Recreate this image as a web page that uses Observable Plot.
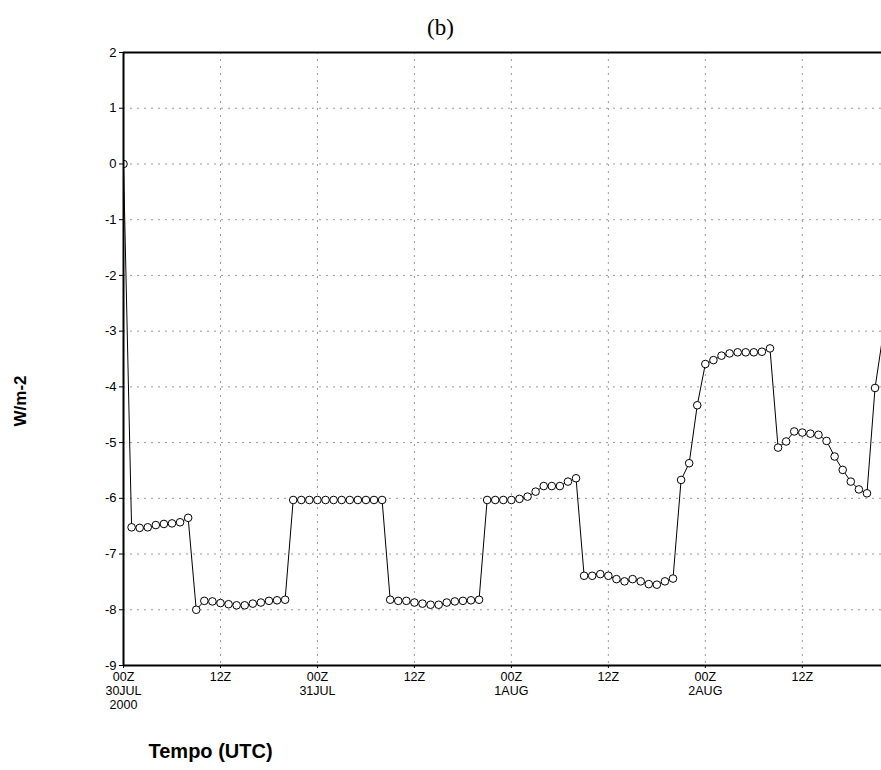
<!DOCTYPE html>
<html>
<head>
<meta charset="utf-8">
<script src="https://cdn.jsdelivr.net/npm/d3@7"></script>
<script src="https://cdn.jsdelivr.net/npm/@observablehq/plot@0.6"></script>
<style>
  html, body { margin: 0; padding: 0; background: #fff; }
  #chart { width: 881px; height: 770px; }
</style>
</head>
<body>
<div id="chart"></div>
<script>
// Hourly values (W/m-2) starting 00Z 30JUL2000
const values = [
  0,
  -6.52, -6.53, -6.52, -6.48, -6.46, -6.45, -6.43, -6.35,
  -8.00, -7.84, -7.85, -7.88, -7.90, -7.92, -7.92, -7.89, -7.87, -7.84, -7.83, -7.82,
  -6.03, -6.03, -6.03, -6.03, -6.03, -6.03, -6.03, -6.03, -6.03, -6.03, -6.03, -6.03,
  -7.82, -7.84, -7.84, -7.87, -7.89, -7.91, -7.91, -7.87, -7.85, -7.84, -7.83, -7.82,
  -6.03, -6.03, -6.03, -6.03, -6.01, -5.97, -5.88, -5.78, -5.78, -5.78, -5.70, -5.64,
  -7.39, -7.39, -7.36, -7.39, -7.45, -7.49, -7.45, -7.49, -7.54, -7.55, -7.49, -7.44,
  -5.67, -5.37, -4.33, -3.59, -3.52, -3.44, -3.40, -3.38, -3.38, -3.38, -3.37, -3.31,
  -5.09, -4.98, -4.80, -4.82, -4.84, -4.86, -4.97, -5.25, -5.49, -5.70, -5.84, -5.91, -4.02,
  -3.05
];
const xTickHours = [0, 12, 24, 36, 48, 60, 72, 84];
const xTickLabels = ["00Z\n30JUL\n2000", "12Z", "00Z\n31JUL", "12Z", "00Z\n1AUG", "12Z", "00Z\n2AUG", "12Z"];
const yTicks = [-9, -8, -7, -6, -5, -4, -3, -2, -1, 0, 1, 2];
const yGrid = [-8, -7, -6, -5, -4, -3, -2, -1, 0, 1];
const xGrid = [12, 24, 36, 48, 60, 72, 84];
const titleText = "(b)";
const yLabel = "W/m-2";
const xLabel = "Tempo (UTC)";

const data = values.map((v, i) => ({hour: i, value: v}));
const tickFont = "'Liberation Sans', Arial, sans-serif";

const chart = Plot.plot({
  width: 881,
  height: 770,
  marginLeft: 123,
  marginRight: 0,
  marginTop: 52,
  marginBottom: 105,
  style: {fontFamily: tickFont, fontSize: "13px", background: "#fff", overflow: "visible"},
  x: {domain: [0, 93.8], axis: null},
  y: {domain: [-9, 2], axis: null},
  marks: [
    Plot.gridY(yGrid, {stroke: "#999", strokeOpacity: 1, strokeDasharray: "2,5"}),
    Plot.gridX(xGrid, {stroke: "#999", strokeOpacity: 1, strokeDasharray: "2,5"}),
    Plot.axisY(yTicks, {tickSize: 4, tickPadding: 3, label: null, fontSize: 13, fontFamily: tickFont,
      tickFormat: (d) => String(d)}),
    Plot.axisX(xTickHours, {
      tickSize: 3, tickPadding: 3, label: null, fontSize: 12.5, fontFamily: tickFont,
      tickFormat: (d) => xTickLabels[xTickHours.indexOf(d)], lineHeight: 1.1
    }),
    Plot.line(data, {x: "hour", y: "value", stroke: "#000", strokeWidth: 1, clip: true}),
    Plot.dot(data.filter(d => d.hour < 94), {x: "hour", y: "value", r: 3.8, fill: "#fff", stroke: "#000", strokeWidth: 1, clip: true}),
    Plot.ruleY([2, -9], {stroke: "#000", strokeWidth: 2}),
    Plot.ruleX([0], {stroke: "#000", strokeWidth: 2}),
    Plot.text([titleText], {frameAnchor: "top-left", dx: 317, dy: -34, text: d => d,
      fontFamily: "'Liberation Serif', 'Times New Roman', serif", fontSize: 23, textAnchor: "middle", fill: "#000"}),
    Plot.text([yLabel], {frameAnchor: "left", dx: -103, dy: 42, text: d => d, rotate: -90,
      fontFamily: "'Liberation Sans', Arial, sans-serif", fontSize: 17, fontWeight: "bold", textAnchor: "middle", fill: "#000"}),
    Plot.text([xLabel], {frameAnchor: "bottom-left", dx: 25, dy: 92, text: d => d,
      fontFamily: "'Liberation Sans', Arial, sans-serif", fontSize: 20, fontWeight: "bold", textAnchor: "start", fill: "#000"})
  ]
});
document.getElementById("chart").appendChild(chart);
</script>
</body>
</html>
